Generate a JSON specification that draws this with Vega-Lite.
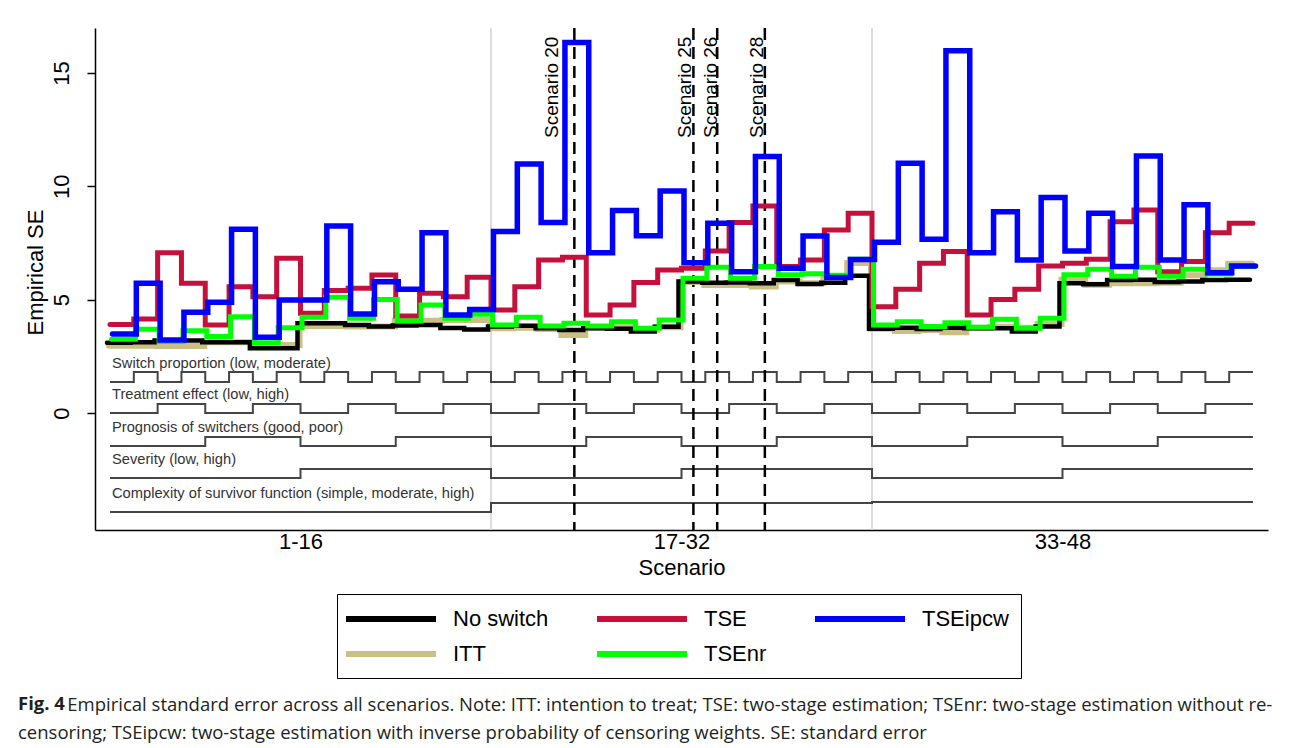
{
  "$schema": "https://vega.github.io/schema/vega-lite/v6.json",
  "width": 1173,
  "height": 502,
  "autosize": {"type": "none"},
  "padding": {"left": 95, "top": 28, "right": 24, "bottom": 218},
  "background": "white",
  "config": {
    "view": {"stroke": null},
    "font": "Liberation Sans",
    "axis": {"grid": false, "labelFont": "Liberation Sans", "labelFontSize": 22, "labelColor": "black", "titleFont": "Liberation Sans", "titleFontSize": 22, "titleFontWeight": "normal", "titleColor": "black", "domainColor": "black", "domainWidth": 1.5, "tickColor": "black", "tickWidth": 1.5}
  },
  "title": {
    "text": "Fig. 4",
    "subtitle": ["\u200b\u2003\u2003\u2002\u2009Empirical standard error across all scenarios. Note: ITT: intention to treat; TSE: two-stage estimation; TSEnr: two-stage estimation without re-", "censoring; TSEipcw: two-stage estimation with inverse probability of censoring weights. SE: standard error"],
    "orient": "bottom", "anchor": "start", "frame": "group", "offset": 16, "dx": -77,
    "font": "Open Sans", "fontSize": 18.5, "fontWeight": "bold", "color": "#231f20",
    "subtitleFont": "Open Sans", "subtitleFontSize": 18.5, "subtitleColor": "#231f20",
    "subtitleLineHeight": 28, "subtitlePadding": -17
  },
  "datasets": {
    "main": [
      {"s":0,"ns":3.10,"itt":2.97,"tse":3.90,"nr":3.25,"ipcw":3.48,"sw":1.37,"te":0,"pr":-1.46,"sv":-2.87,"cx":-4.37},
      {"s":1,"ns":3.10,"itt":2.97,"tse":3.90,"nr":3.25,"ipcw":3.48,"sw":1.37,"te":0,"pr":-1.46,"sv":-2.87,"cx":-4.37},
      {"s":2,"ns":3.12,"itt":2.97,"tse":4.15,"nr":3.69,"ipcw":5.72,"sw":1.81,"te":0,"pr":-1.46,"sv":-2.87,"cx":-4.37},
      {"s":3,"ns":3.20,"itt":2.95,"tse":7.07,"nr":3.15,"ipcw":3.22,"sw":1.37,"te":0.40,"pr":-1.46,"sv":-2.87,"cx":-4.37},
      {"s":4,"ns":3.20,"itt":2.95,"tse":5.72,"nr":3.63,"ipcw":4.44,"sw":1.81,"te":0.40,"pr":-1.46,"sv":-2.87,"cx":-4.37},
      {"s":5,"ns":3.12,"itt":3.12,"tse":3.88,"nr":3.37,"ipcw":4.88,"sw":1.37,"te":0,"pr":-1.06,"sv":-2.87,"cx":-4.37},
      {"s":6,"ns":3.12,"itt":3.12,"tse":5.57,"nr":4.25,"ipcw":8.10,"sw":1.81,"te":0,"pr":-1.06,"sv":-2.87,"cx":-4.37},
      {"s":7,"ns":2.86,"itt":3.00,"tse":5.13,"nr":3.10,"ipcw":3.34,"sw":1.37,"te":0.40,"pr":-1.06,"sv":-2.87,"cx":-4.37},
      {"s":8,"ns":2.86,"itt":3.00,"tse":6.82,"nr":3.76,"ipcw":4.98,"sw":1.81,"te":0.40,"pr":-1.06,"sv":-2.87,"cx":-4.37},
      {"s":9,"ns":3.96,"itt":3.84,"tse":4.40,"nr":4.22,"ipcw":4.98,"sw":1.37,"te":0,"pr":-1.46,"sv":-2.47,"cx":-4.37},
      {"s":10,"ns":3.96,"itt":3.84,"tse":5.40,"nr":5.10,"ipcw":8.25,"sw":1.81,"te":0,"pr":-1.46,"sv":-2.47,"cx":-4.37},
      {"s":11,"ns":3.88,"itt":3.82,"tse":5.50,"nr":4.18,"ipcw":4.37,"sw":1.37,"te":0.40,"pr":-1.46,"sv":-2.47,"cx":-4.37},
      {"s":12,"ns":3.81,"itt":3.82,"tse":6.09,"nr":5.01,"ipcw":5.79,"sw":1.81,"te":0.40,"pr":-1.46,"sv":-2.47,"cx":-4.37},
      {"s":13,"ns":3.86,"itt":4.07,"tse":4.28,"nr":4.06,"ipcw":5.46,"sw":1.37,"te":0,"pr":-1.06,"sv":-2.47,"cx":-4.37},
      {"s":14,"ns":3.88,"itt":4.07,"tse":5.28,"nr":4.76,"ipcw":7.95,"sw":1.81,"te":0,"pr":-1.06,"sv":-2.47,"cx":-4.37},
      {"s":15,"ns":3.75,"itt":4.10,"tse":5.13,"nr":4.18,"ipcw":4.32,"sw":1.37,"te":0.40,"pr":-1.06,"sv":-2.47,"cx":-4.37},
      {"s":16,"ns":3.68,"itt":4.10,"tse":5.99,"nr":4.35,"ipcw":4.57,"sw":1.81,"te":0.40,"pr":-1.06,"sv":-2.47,"cx":-4.37},
      {"s":17,"ns":3.81,"itt":3.74,"tse":4.54,"nr":3.88,"ipcw":8.00,"sw":1.37,"te":0,"pr":-1.46,"sv":-2.87,"cx":-3.97},
      {"s":18,"ns":3.85,"itt":3.76,"tse":5.57,"nr":4.22,"ipcw":10.98,"sw":1.81,"te":0,"pr":-1.46,"sv":-2.87,"cx":-3.97},
      {"s":19,"ns":3.74,"itt":3.70,"tse":6.75,"nr":3.84,"ipcw":8.40,"sw":1.37,"te":0.40,"pr":-1.46,"sv":-2.87,"cx":-3.97},
      {"s":20,"ns":3.66,"itt":3.44,"tse":6.87,"nr":3.96,"ipcw":16.34,"sw":1.81,"te":0.40,"pr":-1.46,"sv":-2.87,"cx":-3.97},
      {"s":21,"ns":3.74,"itt":3.76,"tse":4.32,"nr":3.84,"ipcw":7.07,"sw":1.37,"te":0,"pr":-1.06,"sv":-2.87,"cx":-3.97},
      {"s":22,"ns":3.72,"itt":3.78,"tse":4.76,"nr":4.03,"ipcw":8.93,"sw":1.81,"te":0,"pr":-1.06,"sv":-2.87,"cx":-3.97},
      {"s":23,"ns":3.60,"itt":3.66,"tse":5.76,"nr":3.74,"ipcw":7.82,"sw":1.37,"te":0.40,"pr":-1.06,"sv":-2.87,"cx":-3.97},
      {"s":24,"ns":3.80,"itt":3.78,"tse":6.31,"nr":4.10,"ipcw":9.79,"sw":1.81,"te":0.40,"pr":-1.06,"sv":-2.87,"cx":-3.97},
      {"s":25,"ns":5.80,"itt":5.78,"tse":6.38,"nr":5.94,"ipcw":6.63,"sw":1.37,"te":0,"pr":-1.46,"sv":-2.47,"cx":-3.97},
      {"s":26,"ns":5.75,"itt":5.64,"tse":7.15,"nr":6.43,"ipcw":8.37,"sw":1.81,"te":0,"pr":-1.46,"sv":-2.47,"cx":-3.97},
      {"s":27,"ns":5.76,"itt":5.64,"tse":8.40,"nr":5.94,"ipcw":6.23,"sw":1.37,"te":0.40,"pr":-1.46,"sv":-2.47,"cx":-3.97},
      {"s":28,"ns":5.72,"itt":5.58,"tse":9.13,"nr":6.46,"ipcw":11.31,"sw":1.81,"te":0.40,"pr":-1.46,"sv":-2.47,"cx":-3.97},
      {"s":29,"ns":5.87,"itt":5.80,"tse":6.46,"nr":6.10,"ipcw":6.38,"sw":1.37,"te":0,"pr":-1.06,"sv":-2.47,"cx":-3.97},
      {"s":30,"ns":5.69,"itt":5.72,"tse":6.75,"nr":6.14,"ipcw":7.81,"sw":1.81,"te":0,"pr":-1.06,"sv":-2.47,"cx":-3.97},
      {"s":31,"ns":5.75,"itt":6.00,"tse":8.07,"nr":6.08,"ipcw":5.98,"sw":1.37,"te":0.40,"pr":-1.06,"sv":-2.47,"cx":-3.97},
      {"s":32,"ns":6.05,"itt":6.62,"tse":8.81,"nr":6.78,"ipcw":6.77,"sw":1.81,"te":0.40,"pr":-1.06,"sv":-2.47,"cx":-3.97},
      {"s":33,"ns":3.72,"itt":3.72,"tse":4.69,"nr":3.88,"ipcw":7.53,"sw":1.37,"te":0,"pr":-1.46,"sv":-2.87,"cx":-3.93},
      {"s":34,"ns":3.76,"itt":3.62,"tse":5.46,"nr":4.03,"ipcw":11.01,"sw":1.81,"te":0,"pr":-1.46,"sv":-2.87,"cx":-3.93},
      {"s":35,"ns":3.70,"itt":3.66,"tse":6.60,"nr":3.81,"ipcw":7.66,"sw":1.37,"te":0.40,"pr":-1.46,"sv":-2.87,"cx":-3.93},
      {"s":36,"ns":3.76,"itt":3.56,"tse":7.12,"nr":3.98,"ipcw":15.98,"sw":1.81,"te":0.40,"pr":-1.46,"sv":-2.87,"cx":-3.93},
      {"s":37,"ns":3.74,"itt":3.76,"tse":4.32,"nr":3.78,"ipcw":7.07,"sw":1.37,"te":0,"pr":-1.06,"sv":-2.87,"cx":-3.93},
      {"s":38,"ns":3.74,"itt":3.80,"tse":5.01,"nr":4.13,"ipcw":8.88,"sw":1.81,"te":0,"pr":-1.06,"sv":-2.87,"cx":-3.93},
      {"s":39,"ns":3.60,"itt":3.76,"tse":5.46,"nr":3.74,"ipcw":6.75,"sw":1.37,"te":0.40,"pr":-1.06,"sv":-2.87,"cx":-3.93},
      {"s":40,"ns":3.82,"itt":3.92,"tse":6.48,"nr":4.18,"ipcw":9.50,"sw":1.81,"te":0.40,"pr":-1.06,"sv":-2.87,"cx":-3.93},
      {"s":41,"ns":5.72,"itt":5.88,"tse":6.60,"nr":6.10,"ipcw":7.15,"sw":1.37,"te":0,"pr":-1.46,"sv":-2.47,"cx":-3.93},
      {"s":42,"ns":5.68,"itt":5.66,"tse":6.78,"nr":6.34,"ipcw":8.81,"sw":1.81,"te":0,"pr":-1.46,"sv":-2.47,"cx":-3.93},
      {"s":43,"ns":5.87,"itt":5.72,"tse":8.44,"nr":6.03,"ipcw":6.46,"sw":1.37,"te":0.40,"pr":-1.46,"sv":-2.47,"cx":-3.93},
      {"s":44,"ns":5.88,"itt":5.72,"tse":8.95,"nr":6.43,"ipcw":11.34,"sw":1.81,"te":0.40,"pr":-1.46,"sv":-2.47,"cx":-3.93},
      {"s":45,"ns":5.78,"itt":5.74,"tse":6.23,"nr":6.03,"ipcw":6.75,"sw":1.37,"te":0,"pr":-1.06,"sv":-2.47,"cx":-3.93},
      {"s":46,"ns":5.80,"itt":6.08,"tse":6.68,"nr":6.34,"ipcw":9.18,"sw":1.81,"te":0,"pr":-1.06,"sv":-2.47,"cx":-3.93},
      {"s":47,"ns":5.87,"itt":6.30,"tse":7.95,"nr":6.13,"ipcw":6.19,"sw":1.37,"te":0.40,"pr":-1.06,"sv":-2.47,"cx":-3.93},
      {"s":48,"ns":5.88,"itt":6.58,"tse":8.37,"nr":6.46,"ipcw":6.48,"sw":1.81,"te":0.40,"pr":-1.06,"sv":-2.47,"cx":-3.93}
    ],
    "markers": [
      {"n": "Scenario 20", "at": 19.5, "lx": 18.82},
      {"n": "Scenario 25", "at": 24.5, "lx": 24.38},
      {"n": "Scenario 26", "at": 25.5, "lx": 25.5},
      {"n": "Scenario 28", "at": 27.5, "lx": 27.43}
    ],
    "params": [
      {"t": "Switch proportion (low, moderate)", "b": 1.37},
      {"t": "Treatment effect (low, high)", "b": 0},
      {"t": "Prognosis of switchers (good, poor)", "b": -1.46},
      {"t": "Severity (low, high)", "b": -2.87},
      {"t": "Complexity of survivor function (simple, moderate, high)", "b": -4.37}
    ]
  },
  "layer": [
    {
      "data": {"values": [{"b": 16}, {"b": 32}]},
      "mark": {"type": "rule", "color": "#dcdcdc", "strokeWidth": 2},
      "encoding": {
        "x": {"field": "b", "type": "quantitative", "scale": {"domain": [-0.63, 48.63], "nice": false, "zero": false},
          "axis": {"title": "Scenario", "values": [8, 24, 40], "labelExpr": "datum.value == 8 ? '1-16' : datum.value == 24 ? '17-32' : '33-48'", "ticks": false, "labelPadding": 1, "labelBaseline": "top", "titleBaseline": "middle", "titleY": 37}}
      }
    },
    {
      "data": {"name": "main"},
      "transform": [{"fold": ["sw", "te", "pr", "sv", "cx"], "as": ["param", "lvl"]}],
      "mark": {"type": "line", "interpolate": "step-before", "color": "#454545", "strokeWidth": 2},
      "encoding": {
        "x": {"field": "s", "type": "quantitative"},
        "y": {"field": "lvl", "type": "quantitative", "scale": {"domain": [-5.16, 16.98], "nice": false, "zero": false},
          "axis": {"title": "Empirical SE", "values": [0, 5, 10, 15], "labelAngle": 270, "labelAlign": "center", "labelBaseline": "bottom", "tickSize": 8, "labelPadding": 14, "titleX": -60, "titleY": 244, "titleAngle": 270, "titleAlign": "center", "titleBaseline": "middle"}},
        "detail": {"field": "param"}
      }
    },
    {
      "data": {"name": "params"},
      "mark": {"type": "text", "align": "left", "baseline": "alphabetic", "dx": 2, "dy": -14, "fontSize": 14.7, "color": "#333333", "font": "Liberation Sans"},
      "encoding": {
        "x": {"datum": 0, "type": "quantitative"},
        "y": {"field": "b", "type": "quantitative"},
        "text": {"field": "t"}
      }
    },
    {
      "data": {"name": "markers"},
      "mark": {"type": "rule", "color": "black", "strokeWidth": 2.5, "strokeDash": [12, 7]},
      "encoding": {
        "x": {"field": "at", "type": "quantitative"}
      }
    },
    {
      "data": {"name": "markers"},
      "mark": {"type": "text", "angle": 270, "align": "right", "baseline": "alphabetic", "fontSize": 19, "color": "black", "font": "Liberation Sans"},
      "encoding": {
        "x": {"field": "lx", "type": "quantitative"},
        "y": {"datum": 16.6, "type": "quantitative"},
        "text": {"field": "n"}
      }
    },
    {
      "data": {"name": "main"},
      "mark": {"type": "line", "interpolate": "step-before", "strokeWidth": 6, "strokeCap": "round", "xOffset": -1},
      "encoding": {
        "x": {"field": "s", "type": "quantitative"},
        "y": {"field": "itt", "type": "quantitative"},
        "color": {"datum": "ITT", "type": "nominal",
          "scale": {"domain": ["No switch", "TSE", "TSEipcw", "ITT", "TSEnr"], "range": ["#000000", "#c4103a", "#0000ff", "#cbbf85", "#00ff00"]},
          "legend": {"title": null, "orient": "none", "legendX": 242, "legendY": 566, "direction": "horizontal", "columns": 3, "strokeColor": "black", "padding": 12, "labelFontSize": 22, "labelFont": "Liberation Sans", "labelColor": "black", "symbolType": "M-1.6,0H7.4", "symbolSize": 400, "symbolStrokeWidth": 6, "labelOffset": 78, "columnPadding": 36, "rowPadding": 10}}
      }
    },
    {
      "data": {"name": "main"},
      "mark": {"type": "line", "interpolate": "step-before", "strokeWidth": 4.5, "strokeCap": "round", "xOffset": -3},
      "encoding": {
        "x": {"field": "s", "type": "quantitative"},
        "y": {"field": "ns", "type": "quantitative"},
        "color": {"datum": "No switch", "type": "nominal"}
      }
    },
    {
      "data": {"name": "main"},
      "mark": {"type": "line", "interpolate": "step-before", "strokeWidth": 5, "strokeCap": "round", "xOffset": 0},
      "encoding": {
        "x": {"field": "s", "type": "quantitative"},
        "y": {"field": "tse", "type": "quantitative"},
        "color": {"datum": "TSE", "type": "nominal"}
      }
    },
    {
      "data": {"name": "main"},
      "mark": {"type": "line", "interpolate": "step-before", "strokeWidth": 5, "strokeCap": "round", "xOffset": 1.5},
      "encoding": {
        "x": {"field": "s", "type": "quantitative"},
        "y": {"field": "nr", "type": "quantitative"},
        "color": {"datum": "TSEnr", "type": "nominal"}
      }
    },
    {
      "data": {"name": "main"},
      "mark": {"type": "line", "interpolate": "step-before", "strokeWidth": 5.5, "strokeCap": "round", "xOffset": 2.5},
      "encoding": {
        "x": {"field": "s", "type": "quantitative"},
        "y": {"field": "ipcw", "type": "quantitative"},
        "color": {"datum": "TSEipcw", "type": "nominal"}
      }
    }
  ]
}
